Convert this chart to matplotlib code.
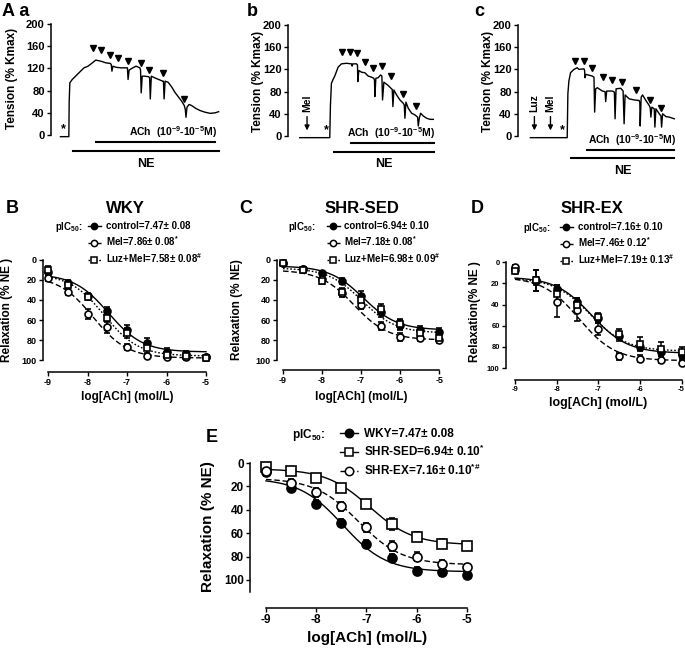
import numpy as np
import matplotlib
matplotlib.use("Agg")
import matplotlib.pyplot as plt
from matplotlib.lines import Line2D

plt.rcParams["font.family"] = ["Liberation Sans", "DejaVu Sans", "Noto Sans CJK SC"]
plt.rcParams["font.weight"] = "bold"
plt.rcParams["mathtext.fontset"] = "custom"
plt.rcParams["mathtext.rm"] = "Liberation Sans:bold"
plt.rcParams["mathtext.it"] = "Liberation Sans:bold"
plt.rcParams["mathtext.bf"] = "Liberation Sans:bold"
plt.rcParams["axes.linewidth"] = 1.1

# ---------------- top row: tension traces (time in arbitrary units, % Kmax)
a_t = [180, 205, 206, 208, 215, 230, 250, 262, 275, 285, 300, 315, 328, 331, 333, 336, 345, 360,
       379, 381, 384, 395, 405, 416, 418, 420, 423, 430, 442, 445, 447, 450, 460, 472, 484, 486,
       488, 491, 500, 510, 520, 530, 540, 548, 551, 553, 556, 562, 570, 582, 595, 610, 625, 640, 650]
a_v = [-3, -3, 60, 94, 100, 109, 121, 124, 130, 135, 133, 130, 129, 127, 115, 124, 122, 121,
       121, 100, 117, 121, 124, 121, 117, 76, 106, 106, 105, 103, 65, 106, 103, 100, 97, 97,
       65, 97, 95, 87, 77, 69, 61, 53, 46, 32, 50, 55, 53, 48, 44, 41, 39, 40, 42]
a_tri_t = [277, 302, 326, 352, 381, 419, 443, 485, 548]
a_tri_v = [156, 153, 145, 139, 133, 130, 118, 112, 64]

b_t = [210, 300, 302, 305, 310, 315, 325, 335, 350, 365, 367, 369, 380, 383, 384, 387, 395, 405,
       415, 425, 432, 434, 435, 438, 445, 452, 456, 458, 462, 475, 485, 487, 489, 492, 500, 510,
       520, 523, 525, 528, 535, 545, 555, 563, 565, 568, 572, 580, 590, 600, 610]
b_v = [-3, -3, 55, 95, 102, 108, 124, 130, 131, 130, 126, 130, 130, 128, 98, 118, 115, 114,
       108, 106, 104, 100, 71, 104, 105, 110, 108, 65, 97, 91, 85, 84, 53, 83, 74, 65,
       59, 56, 32, 61, 50, 41, 38, 34, 18, 32, 41, 36, 32, 30, 30]
b_tri_t = [338, 360, 382, 404, 430, 457, 483, 520, 558]
b_tri_v = [151, 151, 149, 134, 122, 126, 108, 75, 54]

c_t = [225, 335, 337, 340, 345, 355, 365, 370, 385, 387, 388, 391, 410, 415, 417, 420, 425, 440,
       448, 450, 453, 470, 476, 478, 481, 495, 502, 505, 508, 520, 535, 550, 552, 553, 556, 560,
       570, 580, 583, 585, 588, 595, 597, 600, 610, 615, 617, 620, 630, 640, 655]
c_v = [-3, -3, 76, 99, 114, 120, 123, 120, 121, 118, 105, 111, 108, 106, 43, 85, 87, 81,
       80, 62, 81, 81, 79, 31, 85, 86, 81, 22, 74, 67, 65, 64, 60, 18, 70, 74,
       64, 55, 51, 34, 52, 49, 16, 49, 40, 36, 16, 40, 35, 34, 31]
c_tri_t = [358, 385, 410, 442, 468, 500, 540, 583, 615]
c_tri_v = [136, 136, 122, 107, 101, 97, 83, 65, 50]

# ---------------- concentration-response data (% relaxation of NE tone)
log_ach = [-9, -8.5, -8, -7.5, -7, -6.5, -6, -5.5, -5]

wky_ctrl = [12, 23, 36, 51, 70, 83, 92, 94, 97]
wky_ctrl_err = [3, 3, 3, 4, 5, 5, 4, 3, 2]
wky_mel = [18, 32, 54, 67, 87, 96, 97, 97, 97]
wky_mel_err = [3, 3, 5, 6, 3, 2, 2, 2, 2]
wky_luz = [10, 25, 37, 58, 73, 88, 95, 96, 98]
wky_luz_err = [4, 4, 3, 4, 5, 5, 4, 4, 3]

sed_ctrl = [3, 9, 13, 21, 36, 52, 65, 70, 72]
sed_ctrl_err = [2, 2, 2, 3, 5, 5, 5, 4, 4]
sed_mel = [3, 9, 19, 33, 45, 66, 77, 78, 80]
sed_mel_err = [2, 2, 3, 4, 4, 4, 4, 3, 3]
sed_luz = [3, 10, 21, 32, 40, 49, 64, 73, 78]
sed_luz_err = [2, 2, 3, 4, 5, 5, 5, 4, 3]

ex_ctrl = [7, 18, 25, 38, 53, 70, 80, 85, 88]
ex_ctrl_err = [2, 4, 3, 4, 4, 4, 4, 4, 3]
ex_mel = [5, 17, 38, 45, 63, 89, 91, 92, 95]
ex_mel_err = [2, 10, 14, 11, 6, 3, 3, 3, 2]
ex_luz = [8, 17, 30, 40, 52, 68, 77, 82, 85]
ex_luz_err = [2, 10, 8, 6, 4, 5, 6, 7, 5]

all_wky = [8, 21, 35, 51, 69, 81, 92, 93, 96]
all_wky_err = [3, 3, 3, 3, 3, 3, 3, 4, 2]
all_sed = [3, 7, 13, 21, 35, 52, 63, 69, 71]
all_sed_err = [2, 2, 2, 2, 3, 5, 4, 4, 3]
all_ex = [7, 17, 25, 37, 55, 71, 80, 86, 89]
all_ex_err = [3, 3, 4, 4, 4, 4, 4, 3, 3]

# fitted curves: top, bottom, pIC50
fit_wky_ctrl = [14, 92, 7.47]
fit_wky_mel = [16, 98, 7.86]
fit_wky_luz = [14, 96, 7.58]
fit_sed_ctrl = [6, 70, 6.94]
fit_sed_mel = [10, 80, 7.18]
fit_sed_luz = [8, 73, 6.98]
fit_ex_ctrl = [14, 86, 7.16]
fit_ex_mel = [14, 93, 7.46]
fit_ex_luz = [15, 84, 7.19]
fit_all_wky = [13, 93, 7.47]
fit_all_sed = [5, 70, 6.94]
fit_all_ex = [13, 87, 7.16]

lab_wky = ["control=7.47\u00b1 0.08", "Mel=7.86\u00b1 0.08$^{*}$", "Luz+Mel=7.58\u00b1 0.08$^{\\#}$"]
lab_sed = ["control=6.94\u00b1 0.10", "Mel=7.18\u00b1 0.08$^{*}$", "Luz+Mel=6.98\u00b1 0.09$^{\\#}$"]
lab_ex = ["control=7.16\u00b1 0.10", "Mel=7.46\u00b1 0.12$^{*}$", "Luz+Mel=7.19\u00b1 0.13$^{\\#}$"]
lab_all = ["WKY=7.47\u00b1 0.08", "SHR-SED=6.94\u00b1 0.10$^{*}$", "SHR-EX=7.16\u00b1 0.10$^{*\\#}$"]

W, H = 685, 650
fig = plt.figure(figsize=(6.85, 6.5), dpi=100)


def px_axes(left, top, right, bottom):
    return fig.add_axes([left / W, 1 - bottom / H, (right - left) / W, (bottom - top) / H])


def ftext(x, y, s, **kw):
    fig.text(x / W, 1 - y / H, s, **kw)


def hill(x, top, bottom, pic50):
    return bottom + (top - bottom) / (1 + 10 ** (x + pic50))


def trace_panel(left, right, xlim, y0, t, v, tri_t, tri_v, ne, ach, star_t, arrows):
    # y0: pixel row of tension 0; 0.555 px per % Kmax
    sc = 0.555
    ax = px_axes(left, y0 - 205 * sc, right, y0 + 60 * sc)
    ax.set_xlim(*xlim)
    ax.set_ylim(-60, 205)
    ax.plot(t, v, color="k", lw=1.0)
    ax.plot(tri_t, tri_v, "v", color="k", ms=5)
    ax.plot(ne[:2], [ne[2]] * 2, color="k", lw=1.5, clip_on=False)
    ax.plot(ach[:2], [ach[2]] * 2, color="k", lw=1.5, clip_on=False)
    ax.text(ach[1] + 4, ach[2] + 4, "ACh  (10$^{-9}$-10$^{-5}$M)", ha="right",
            va="bottom", fontsize=7.5)
    ax.text((ne[0] + ne[1]) / 2, ne[2] - 12, "NE", ha="center", va="top", fontsize=9)
    ax.text(star_t, 0, "*", ha="center", va="bottom", fontsize=9)
    for at, name in arrows:
        ax.annotate("", xy=(at, 5), xytext=(at, 40),
                    arrowprops=dict(arrowstyle="-|>", color="k", lw=1, mutation_scale=7))
        ax.text(at, 44, name, rotation=90, ha="center", va="bottom", fontsize=7.5)
    for s in ["top", "right", "bottom"]:
        ax.spines[s].set_visible(False)
    ax.spines["left"].set_bounds(0, 200)
    ax.set_xticks([])
    ax.set_yticks([0, 40, 80, 120, 160, 200])
    ax.tick_params(axis="y", length=3, width=1, labelsize=8, pad=1.5)
    return ax


trace_panel(51, 222, (152, 660), 135, a_t, a_v, a_tri_t, a_tri_v,
            (218, 650, -29), (285, 640, -13), 188, [])
trace_panel(288, 440, (175, 630), 136, b_t, b_v, b_tri_t, b_tri_v,
            (312, 612, -28), (365, 612, -13), 290, [(232, "Mel")])
trace_panel(518, 680, (188, 672), 136, c_t, c_v, c_tri_t, c_tri_v,
            (345, 655, -40), (395, 655, -26), 322, [(237, "Luz"), (285, "Mel")])

ftext(12, 78, "Tension (% Kmax)", rotation=90, ha="center", va="center", fontsize=8.5)
ftext(258, 81, "Tension (% Kmax)", rotation=90, ha="center", va="center", fontsize=8.5)
ftext(488, 81, "Tension (% Kmax)", rotation=90, ha="center", va="center", fontsize=8.5)
ftext(2, 12, "A a", ha="left", va="center", fontsize=13)
ftext(247, 12, "b", ha="left", va="center", fontsize=13)
ftext(474, 12, "c", ha="left", va="center", fontsize=13)

xs = np.linspace(-9, -5, 200)


def curve_panel(box, xlim, ylim, ytop, series, ms, tick_fs):
    ax = px_axes(*box)
    for y, err, fit, mk, face, ls in series:
        ax.plot(xs, hill(xs, *fit), color="k", lw=1, ls=ls, clip_on=False)
        ax.errorbar(log_ach, y, yerr=err, fmt=mk, mfc=face, mec="k", ms=ms, mew=1.2,
                    ecolor="k", elinewidth=1.1, capsize=2, capthick=1.1, clip_on=False)
    ax.set_xlim(*xlim)
    ax.set_ylim(*ylim)
    for s in ["top", "right"]:
        ax.spines[s].set_visible(False)
    ax.spines["left"].set_bounds(0, ytop)
    ax.spines["bottom"].set_bounds(-9, -5)
    ax.set_xticks([-9, -8, -7, -6, -5])
    ax.set_xticklabels(["-9", "-8", "-7", "-6", "-5"])
    ax.set_yticks([0, 20, 40, 60, 80, 100])
    ax.tick_params(length=3, width=1, labelsize=tick_fs, pad=1.5)
    return ax


def legend_at(ax, series, labels, hx, y1, fs, ms, hl):
    handles = [Line2D([0], [0], color="k", ls=s[5], lw=1, marker=s[3], mfc=s[4], mec="k",
                      ms=ms, mew=1.1) for s in series]
    rowh = fs * 100 / 72 * 1.17
    ax.legend(handles, labels, loc="upper left", bbox_to_anchor=(hx / W, 1 - (y1 - rowh / 2) / H),
              bbox_transform=fig.transFigure, frameon=False, fontsize=fs, handlelength=hl,
              handletextpad=0.5, labelspacing=0.32, borderpad=0, borderaxespad=0)


solid, dash, dot = "-", (0, (4, 2)), (0, (1.2, 1.4))

s_wky = [(wky_ctrl, wky_ctrl_err, fit_wky_ctrl, "o", "k", solid),
         (wky_mel, wky_mel_err, fit_wky_mel, "o", "w", dash),
         (wky_luz, wky_luz_err, fit_wky_luz, "s", "w", dot)]
s_sed = [(sed_ctrl, sed_ctrl_err, fit_sed_ctrl, "o", "k", solid),
         (sed_mel, sed_mel_err, fit_sed_mel, "o", "w", dash),
         (sed_luz, sed_luz_err, fit_sed_luz, "s", "w", dot)]
s_ex = [(ex_ctrl, ex_ctrl_err, fit_ex_ctrl, "o", "k", solid),
        (ex_mel, ex_mel_err, fit_ex_mel, "o", "w", dash),
        (ex_luz, ex_luz_err, fit_ex_luz, "s", "w", dot)]
s_all = [(all_wky, all_wky_err, fit_all_wky, "o", "k", solid),
         (all_sed, all_sed_err, fit_all_sed, "s", "w", solid),
         (all_ex, all_ex_err, fit_all_ex, "o", "w", dash)]

axB = curve_panel((43, 257, 210, 372), (-9.127, -4.9), (112, -3), 100, s_wky, 5, 6.5)
axC = curve_panel((277, 257, 443, 370), (-9.154, -4.9), (110, -3), 100, s_sed, 5, 6.5)
axD = curve_panel((506, 259, 684, 380), (-9.217, -4.94), (111.3, -3), 100, s_ex, 5, 5.5)
axE = curve_panel((250, 459.5, 472, 608), (-9.318, -4.9), (124, -3), 110, s_all, 6.5, 8.5)

legend_at(axB, s_wky, lab_wky, 88, 227, 7, 4.5, 1.3)
legend_at(axC, s_sed, lab_sed, 327, 227, 7, 4.5, 1.3)
legend_at(axD, s_ex, lab_ex, 560, 228, 7, 4.5, 1.3)
legend_at(axE, s_all, lab_all, 340, 435, 8.5, 6, 1.5)

ftext(55, 227, "pIC$_{50}$:", ha="left", va="center", fontsize=7)
ftext(288, 227, "pIC$_{50}$:", ha="left", va="center", fontsize=7)
ftext(523, 228, "pIC$_{50}$:", ha="left", va="center", fontsize=7)
ftext(292, 435, "pIC$_{50}$:", ha="left", va="center", fontsize=8.5)

ftext(125, 208, "WKY", ha="center", va="center", fontsize=12)
ftext(362, 208, "SHR-SED", ha="center", va="center", fontsize=12)
ftext(592, 208, "SHR-EX", ha="center", va="center", fontsize=12)
ftext(6, 208, "B", ha="left", va="center", fontsize=13)
ftext(239, 208, "C", ha="left", va="center", fontsize=13)
ftext(471, 208, "D", ha="left", va="center", fontsize=13)
ftext(206, 437, "E", ha="left", va="center", fontsize=13)

ftext(7, 310, "Relaxation (% NE )", rotation=90, ha="center", va="center", fontsize=8.5)
ftext(237, 310, "Relaxation (% NE)", rotation=90, ha="center", va="center", fontsize=8.5)
ftext(475, 312, "Relaxation(% NE )", rotation=90, ha="center", va="center", fontsize=8.5)
ftext(208, 527, "Relaxation (% NE)", rotation=90, ha="center", va="center", fontsize=11)
ftext(127, 397, "log[ACh] (mol/L)", ha="center", va="center", fontsize=8.5)
ftext(361, 397, "log[ACh] (mol/L)", ha="center", va="center", fontsize=8.5)
ftext(598, 403, "log[ACh] (mol/L)", ha="center", va="center", fontsize=9)
ftext(367, 638, "log[ACh] (mol/L)", ha="center", va="center", fontsize=11)

fig.savefig("out.png", dpi=100)
